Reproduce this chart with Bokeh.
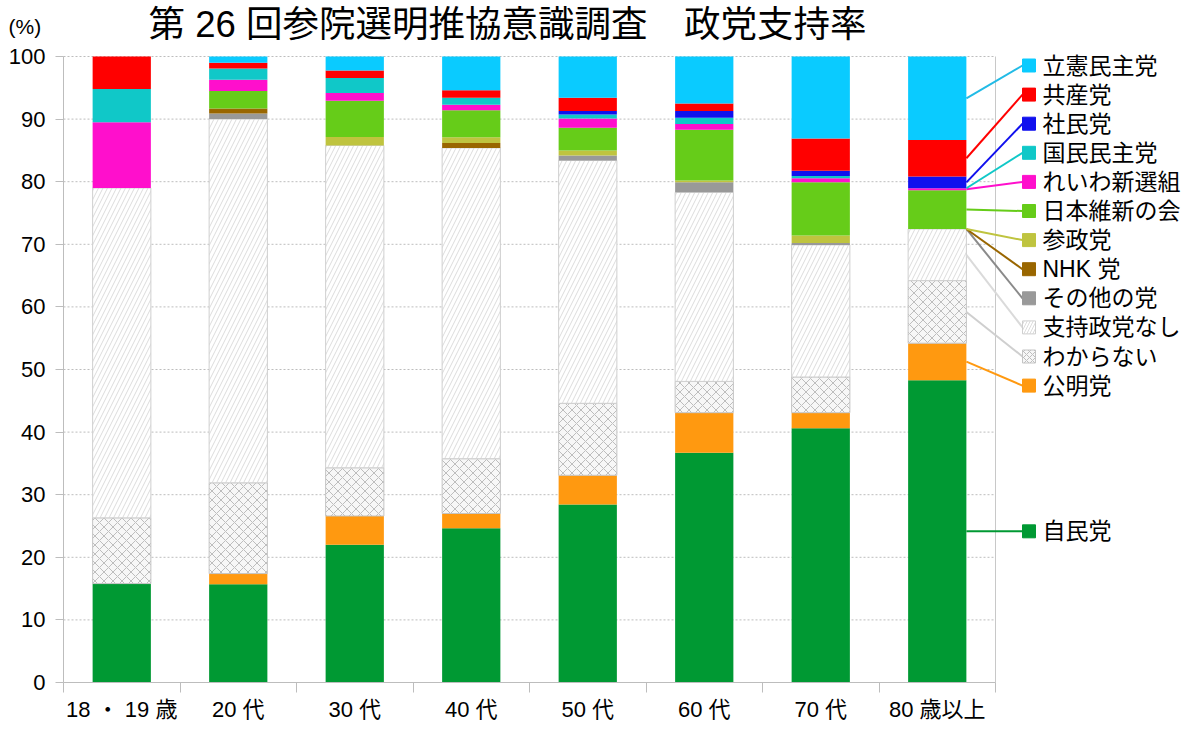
from bokeh.plotting import figure
from bokeh.models import FixedTicker, Range1d, ColumnDataSource
from bokeh.core.properties import value
from bokeh.embed import file_html
from bokeh.resources import INLINE

# ---------------- data ----------------
categories = ["18 ・ 19 歳", "20 代", "30 代", "40 代", "50 代", "60 代", "70 代", "80 歳以上"]

# stack order: bottom -> top
party_keys = ["jimin", "komei", "wakaranai", "nashi", "sonota", "nhk", "sansei",
              "ishin", "reiwa", "kokumin", "shamin", "kyosan", "rikken"]
party_names = ["自民党", "公明党", "わからない", "支持政党なし", "その他の党", "NHK 党", "参政党",
               "日本維新の会", "れいわ新選組", "国民民主党", "社民党", "共産党", "立憲民主党"]

jimin     = [15.8, 15.7, 22.0, 24.65, 28.45, 36.7, 40.6, 48.3]
komei     = [0.0, 1.7, 4.6, 2.35, 4.65, 6.4, 2.5, 5.9]
wakaranai = [10.5, 14.5, 7.7, 8.75, 11.5, 5.0, 5.7, 10.0]
nashi     = [52.7, 58.1, 51.5, 49.65, 38.8, 30.2, 21.1, 8.25]
sonota    = [0.0, 0.9, 0.0, 0.0, 0.8, 1.6, 0.3, 0.0]
nhk       = [0.0, 0.8, 0.0, 0.8, 0.0, 0.0, 0.0, 0.0]
sansei    = [0.0, 0.0, 1.35, 0.9, 0.8, 0.3, 1.2, 0.0]
ishin     = [0.0, 2.8, 5.8, 4.3, 3.6, 8.1, 8.5, 6.2]
reiwa     = [10.5, 1.8, 1.2, 0.9, 1.5, 0.9, 0.65, 0.3]
kokumin   = [5.3, 1.8, 2.4, 1.1, 0.65, 1.0, 0.35, 0.0]
shamin    = [0.0, 0.0, 0.0, 0.0, 0.55, 1.1, 0.85, 1.9]
kyosan    = [5.2, 0.9, 1.2, 1.2, 2.1, 1.2, 5.15, 5.8]
rikken    = [0.0, 1.0, 2.25, 5.4, 6.6, 7.5, 13.1, 13.35]

y_ticks = [0, 10, 20, 30, 40, 50, 60, 70, 80, 90, 100]

title_text = "第 26 回参院選明推協意識調査　政党支持率"
unit_text = "(%)"

# ---------------- style ----------------
FONT = "Liberation Sans, Noto Sans CJK JP"
fill_colors = ["#009933", "#FF9910", "#F7F7F7", "#FFFFFF", "#999999", "#996600", "#BFC43F",
               "#66CC19", "#FF0FCC", "#10C8C8", "#1010EE", "#FF0000", "#0ACBFF"]
line_colors = [None, None, "#C4C4C4", "#CFCFCF", None, None, None,
               None, None, None, None, None, None]
hatches = [" ", " ", "x", "/", " ", " ", " ", " ", " ", " ", " ", " ", " "]
hatch_colors = ["#000000", "#000000", "#BDBDBD", "#DCDCDC", "#000000", "#000000", "#000000",
                "#000000", "#000000", "#000000", "#000000", "#000000", "#000000"]
leader_colors = ["#009933", "#FF9910", "#CFCFCF", "#DADADA", "#8A8A8A", "#996600", "#BFC43F",
                 "#66CC19", "#FF0FCC", "#10C8C8", "#1010EE", "#FF0000", "#22BBE6"]

data = {"x": list(range(len(categories))),
        "jimin": jimin, "komei": komei, "wakaranai": wakaranai, "nashi": nashi,
        "sonota": sonota, "nhk": nhk, "sansei": sansei, "ishin": ishin, "reiwa": reiwa,
        "kokumin": kokumin, "shamin": shamin, "kyosan": kyosan, "rikken": rikken}
source = ColumnDataSource(data)

n = len(categories)
BAR_W = 0.5
W, H = 1184, 726
PX_X = 116.5          # pixels per category
PX_Y = 6.26           # pixels per percent
LEFT_PAD, TOP_PAD = 63, 56
X0 = -0.5 - LEFT_PAD / PX_X
X1 = X0 + W / PX_X
Y1 = 100 + TOP_PAD / PX_Y
Y0 = Y1 - H / PX_Y

p = figure(width=W, height=H, x_range=Range1d(X0, X1), y_range=Range1d(Y0, Y1),
           output_backend="svg", toolbar_location=None, title=None,
           min_border_left=0, min_border_right=0, min_border_top=0, min_border_bottom=0)
p.outline_line_color = None
p.xgrid.visible = False
p.ygrid.visible = False
p.background_fill_color = "white"
p.border_fill_color = "white"

# dotted grid lines over bar region
p.segment(x0=[-0.5] * len(y_ticks[1:]), x1=[n - 0.5] * len(y_ticks[1:]), y0=y_ticks[1:], y1=y_ticks[1:],
          line_color="#BDBDBD", line_dash="2 2", line_width=1)
# right border of bar area
p.segment(x0=[n - 0.5], x1=[n - 0.5], y0=[y_ticks[0]], y1=[y_ticks[-1]], line_color="#C8C8C8", line_width=1)

p.vbar_stack(party_keys, x="x", width=BAR_W, source=source,
             fill_color=fill_colors, line_color=line_colors, line_width=1,
             hatch_pattern=hatches, hatch_color=hatch_colors, hatch_scale=9, hatch_weight=1)

# ---------------- legend with leader lines ----------------
last = [data[k][-1] for k in party_keys]
mids = []
acc = 0.0
for v in last:
    mids.append(acc + v / 2.0)
    acc += v

LEG_TOP = 100 - 9 / PX_Y
LEG_STEP = 29.1 / PX_Y
leg_y = []
for i in range(len(party_keys)):
    if i == 0:
        leg_y.append(mids[0])
    else:
        leg_y.append(LEG_TOP - (len(party_keys) - 1 - i) * LEG_STEP)

bar_right = (n - 1) + BAR_W / 2
sq_x = n - 0.5 + 33.5 / PX_X
sq_left = n - 0.5 + 27 / PX_X
txt_x = n - 0.5 + 47 / PX_X

p.segment(x0=[bar_right] * len(party_keys), y0=mids, x1=[sq_left] * len(party_keys), y1=leg_y,
          line_color=leader_colors, line_width=2)

leg_src = ColumnDataSource(dict(
    x=[sq_x] * len(party_keys), y=leg_y, fill=fill_colors,
    line=[c if c is not None else f for c, f in zip(line_colors, fill_colors)],
    hatch=hatches, hcol=hatch_colors, name=party_names))
p.rect(x="x", y="y", width=13, height=13, width_units="screen", height_units="screen",
       fill_color="fill", line_color="line", hatch_pattern="hatch", hatch_color="hcol",
       hatch_scale=6, hatch_weight=1, source=leg_src)
p.text(x=[txt_x] * len(party_keys), y=leg_y, text=party_names, text_font=value(FONT),
       text_font_size="23px", text_baseline="middle", text_align="left", text_color="#000000")

# ---------------- axes (fixed inside the canvas) ----------------
xa = p.xaxis[0]
xa.fixed_location = 0
xa.ticker = FixedTicker(ticks=list(range(n)), minor_ticks=[i - 0.5 for i in range(n + 1)])
xa.major_label_overrides = {i: c for i, c in enumerate(categories)}
xa.bounds = (-0.5, n - 0.5)
xa.major_tick_out = 0
xa.major_tick_in = 0
xa.minor_tick_out = 10
xa.minor_tick_in = 0
xa.minor_tick_line_color = "#BDBDBD"
xa.axis_line_color = "#BDBDBD"
xa.major_label_text_font = FONT
xa.major_label_text_font_size = "22px"
xa.major_label_text_color = "#000000"
xa.major_label_standoff = 4

ya = p.yaxis[0]
ya.fixed_location = -0.5
ya.ticker = FixedTicker(ticks=y_ticks, minor_ticks=[])
ya.bounds = (0, 100)
ya.major_tick_out = 8
ya.major_tick_in = 0
ya.major_tick_line_color = "#BDBDBD"
ya.axis_line_color = "#BDBDBD"
ya.major_label_text_font = FONT
ya.major_label_text_font_size = "22px"
ya.major_label_text_color = "#000000"
ya.major_label_standoff = 10

# ---------------- title & unit (as text in data space) ----------------
p.text(x=[-0.5 + 85 / PX_X], y=[100 + 32 / PX_Y], text=[title_text], text_font=value(FONT),
       text_font_size="36.5px", text_baseline="middle", text_align="left", text_color="#000000")
p.text(x=[-0.5 - 55 / PX_X], y=[100 + 30 / PX_Y], text=[unit_text], text_font=value(FONT),
       text_font_size="21px", text_baseline="middle", text_align="left", text_color="#000000")

open("out.html", "w").write(file_html(p, INLINE))
